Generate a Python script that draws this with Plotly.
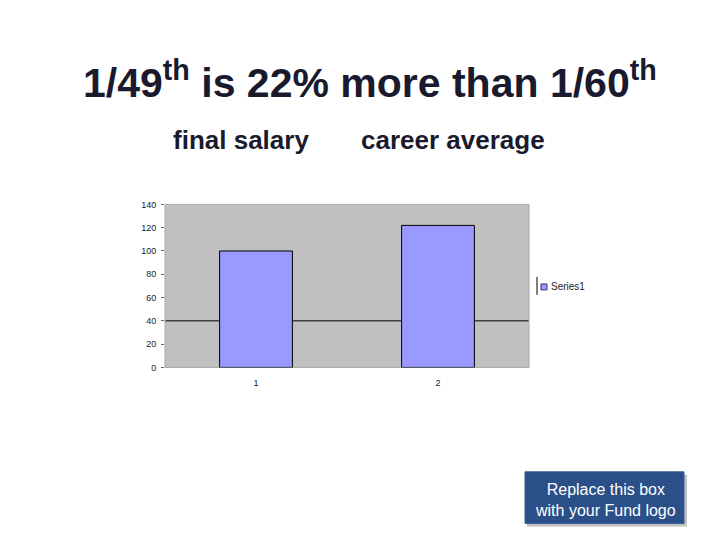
import plotly.graph_objects as go

categories = [1, 2]
cat_labels = ["1", "2"]
values = [100, 122]
series_name = "Series1"
y_ticks = [0, 20, 40, 60, 80, 100, 120, 140]

W, H = 720, 540
OFF = 8  # page body margin
def px(x): return (x - OFF) / W
def py(y):
    yin = (y - 2.5) / 0.9875
    return 1 - (yin - OFF) / H

fig = go.Figure()
fig.add_trace(go.Bar(
    x=categories, y=values, name=series_name, width=0.4,
    marker=dict(color="#9999FF", line=dict(color="#000000", width=1)),
    showlegend=False,
))

fig.update_layout(
    width=W, height=H,
    margin=dict(l=0, r=0, t=0, b=0),
    paper_bgcolor="white",
    plot_bgcolor="#C0C0C0",
    font=dict(family="Arial, Liberation Sans, sans-serif", color="#000000"),
    showlegend=False,
    xaxis=dict(domain=[px(165), px(529)], range=[0.5, 2.5],
               tickvals=categories, ticktext=cat_labels,
               tickfont=dict(size=9, color="#222222"), showgrid=False, zeroline=False,
               showline=False, ticks="outside", ticklen=7, tickcolor="rgba(0,0,0,0)"),
    yaxis=dict(domain=[py(367), py(203)], range=[0, 140],
               tickvals=y_ticks, tickfont=dict(size=9, color="#222222"),
               showgrid=False, zeroline=False, showline=False,
               ticks="outside", ticklen=3, tickcolor="#666666",
               ticklabelstandoff=3),
    bargap=0.6,
)

# single gridline at 40
fig.add_shape(type="line", xref="paper", yref="y", x0=px(165), x1=px(529), y0=40, y1=40,
              line=dict(color="#000000", width=1), layer="below")
# plot area border
fig.add_shape(type="rect", xref="paper", yref="paper", x0=px(165), x1=px(529),
              y0=py(367), y1=py(203), line=dict(color="#a8a8a8", width=1), layer="below")

# legend (drawn manually to match compact symbol)
fig.add_shape(type="line", xref="paper", yref="paper", x0=px(537), x1=px(537),
              y0=py(276), y1=py(294), line=dict(color="#000000", width=1))
fig.add_shape(type="rect", xref="paper", yref="paper", x0=px(541), x1=px(547),
              y0=py(289), y1=py(283), fillcolor="#9999FF", line=dict(color="#333366", width=1))
fig.add_annotation(xref="paper", yref="paper", x=px(549), y=py(286),
                   text=series_name, showarrow=False,
                   font=dict(size=10, color="#222222"), xanchor="left", yanchor="middle")

# title and subtitles
fig.add_annotation(xref="paper", yref="paper", x=px(370), y=py(77.5),
                   text="<b>1/49<sup>th</sup> is 22% more than 1/60<sup>th</sup></b>",
                   showarrow=False, font=dict(size=41, color="#1a1a2e"),
                   xanchor="center", yanchor="middle")
fig.add_annotation(xref="paper", yref="paper", x=px(241), y=py(138),
                   text="<b>final salary</b>", showarrow=False,
                   font=dict(size=26, color="#1a1a2e"), xanchor="center", yanchor="middle")
fig.add_annotation(xref="paper", yref="paper", x=px(453), y=py(138),
                   text="<b>career average</b>", showarrow=False,
                   font=dict(size=26, color="#1a1a2e"), xanchor="center", yanchor="middle")

# logo box
fig.add_shape(type="rect", xref="paper", yref="paper", x0=px(527), x1=px(687),
              y0=py(527), y1=py(475), fillcolor="#9a9a9a", line=dict(width=0), opacity=0.6)
fig.add_shape(type="rect", xref="paper", yref="paper", x0=px(525), x1=px(684),
              y0=py(524), y1=py(472), fillcolor="#2B5089", line=dict(color="#3a5f95", width=1))
fig.add_annotation(xref="paper", yref="paper", x=px(605), y=py(500),
                   text="Replace this box<br>with your Fund logo", showarrow=False,
                   font=dict(size=16, color="white"), xanchor="center", yanchor="middle")

fig.write_html("out.html")
